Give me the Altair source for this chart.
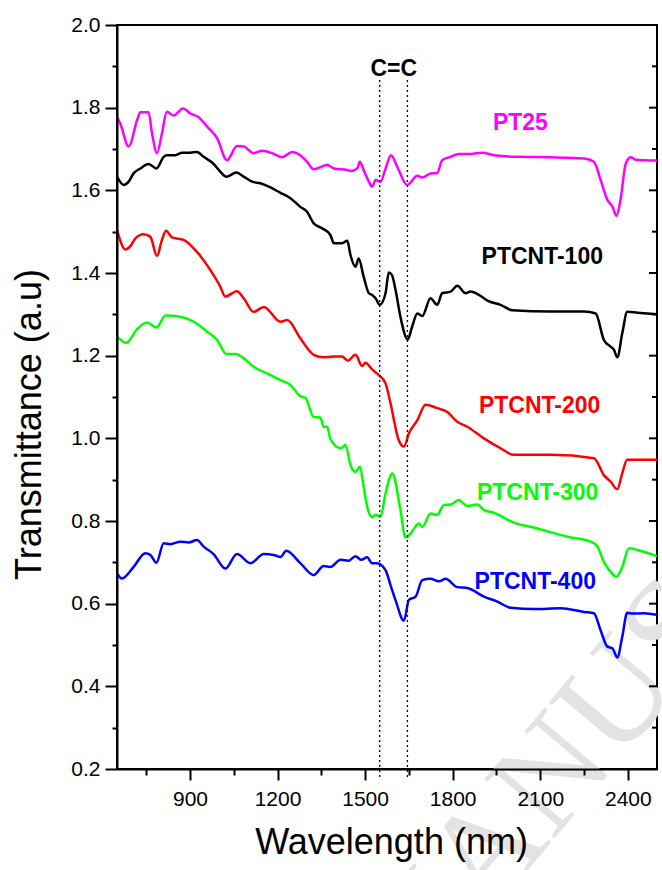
import altair as alt
import pandas as pd

# ---------------- data ----------------
pt25_x = [650, 661, 690, 719, 730, 758, 770, 787, 804, 821, 844, 876, 901, 930, 959, 993,
          1027, 1061, 1084, 1118, 1147, 1187, 1216, 1250, 1278, 1301, 1324, 1370, 1393, 1439,
          1450, 1473, 1482, 1495, 1513, 1524, 1536, 1553, 1570, 1589, 1610, 1644, 1679, 1696,
          1724, 1747, 1764, 1793, 1821, 1861, 1901, 1941, 2021, 2136, 2250, 2284, 2307, 2330,
          2347, 2361, 2375, 2393, 2410, 2427, 2500]
pt25_y = [1.778, 1.762, 1.706, 1.770, 1.789, 1.789, 1.738, 1.690, 1.738, 1.790, 1.781, 1.798,
          1.786, 1.777, 1.754, 1.726, 1.673, 1.707, 1.706, 1.690, 1.696, 1.688, 1.680, 1.693,
          1.685, 1.669, 1.651, 1.661, 1.653, 1.649, 1.647, 1.653, 1.669, 1.649, 1.621, 1.609,
          1.625, 1.621, 1.653, 1.685, 1.657, 1.613, 1.635, 1.631, 1.641, 1.642, 1.673, 1.681,
          1.688, 1.688, 1.691, 1.685, 1.681, 1.680, 1.677, 1.669, 1.625, 1.577, 1.561, 1.538,
          1.577, 1.665, 1.680, 1.674, 1.672]

p100_x = [650, 673, 690, 707, 730, 758, 785, 810, 821, 850, 873, 901, 924, 947, 981, 1004,
          1025, 1059, 1084, 1113, 1141, 1176, 1210, 1244, 1278, 1301, 1324, 1353, 1381, 1393,
          1421, 1439, 1450, 1467, 1478, 1495, 1513, 1524, 1536, 1550, 1570, 1581, 1592, 1604,
          1621, 1646, 1661, 1679, 1696, 1724, 1747, 1764, 1793, 1816, 1844, 1861, 1890, 1919,
          1964, 2004, 2136, 2250, 2290, 2318, 2341, 2352, 2364, 2381, 2398, 2433, 2500]
p100_y = [1.633, 1.613, 1.621, 1.641, 1.653, 1.664, 1.653, 1.681, 1.685, 1.685, 1.691, 1.691,
          1.693, 1.681, 1.664, 1.645, 1.633, 1.643, 1.633, 1.621, 1.617, 1.607, 1.594, 1.581,
          1.560, 1.548, 1.520, 1.508, 1.492, 1.472, 1.472, 1.478, 1.443, 1.415, 1.435, 1.391,
          1.351, 1.347, 1.339, 1.323, 1.351, 1.401, 1.395, 1.360, 1.294, 1.239, 1.270, 1.302,
          1.296, 1.339, 1.323, 1.351, 1.355, 1.369, 1.351, 1.355, 1.347, 1.333, 1.323, 1.310,
          1.307, 1.307, 1.302, 1.238, 1.222, 1.215, 1.196, 1.254, 1.306, 1.304, 1.300]

p200_x = [650, 679, 696, 713, 741, 764, 787, 804, 818, 839, 878, 924, 970, 1004, 1021, 1061,
          1084, 1118, 1153, 1210, 1233, 1278, 1324, 1358, 1393, 1421, 1441, 1467, 1490, 1501,
          1524, 1547, 1570, 1587, 1615, 1633, 1650, 1679, 1707, 1747, 1781, 1816, 1850, 1907,
          1964, 2010, 2136, 2284, 2318, 2341, 2364, 2381, 2398, 2500]
p200_y = [1.504, 1.457, 1.465, 1.484, 1.494, 1.488, 1.441, 1.480, 1.502, 1.486, 1.480, 1.451,
          1.407, 1.367, 1.343, 1.356, 1.339, 1.306, 1.318, 1.282, 1.286, 1.242, 1.202, 1.196,
          1.198, 1.198, 1.188, 1.202, 1.175, 1.183, 1.167, 1.153, 1.133, 1.085, 0.996, 0.980,
          1.012, 1.044, 1.081, 1.073, 1.064, 1.040, 1.028, 1.000, 0.976, 0.960, 0.960, 0.952,
          0.911, 0.895, 0.877, 0.916, 0.948, 0.948]

p300_x = [650, 682, 719, 753, 785, 816, 867, 913, 959, 993, 1025, 1056, 1084, 1118, 1164, 1210,
          1244, 1278, 1295, 1324, 1347, 1358, 1370, 1381, 1416, 1433, 1450, 1467, 1482, 1495,
          1507, 1524, 1536, 1553, 1570, 1593, 1621, 1638, 1656, 1684, 1696, 1724, 1747, 1770,
          1793, 1821, 1850, 1884, 1907, 1941, 2010, 2090, 2193, 2273, 2296, 2318, 2341, 2361,
          2381, 2404, 2433, 2500]
p300_y = [1.246, 1.231, 1.264, 1.280, 1.268, 1.297, 1.294, 1.282, 1.258, 1.238, 1.204, 1.204,
          1.194, 1.173, 1.157, 1.141, 1.129, 1.102, 1.098, 1.052, 1.050, 1.028, 1.028, 0.998,
          0.976, 0.984, 0.935, 0.919, 0.931, 0.883, 0.835, 0.809, 0.815, 0.811, 0.867, 0.915,
          0.827, 0.760, 0.770, 0.794, 0.786, 0.818, 0.815, 0.839, 0.840, 0.851, 0.836, 0.840,
          0.827, 0.820, 0.796, 0.782, 0.762, 0.750, 0.738, 0.701, 0.677, 0.665, 0.689, 0.734,
          0.730, 0.715]

p400_x = [650, 667, 707, 747, 764, 785, 810, 833, 867, 896, 924, 947, 981, 1021, 1061, 1107,
          1153, 1187, 1210, 1230, 1278, 1324, 1358, 1381, 1416, 1444, 1467, 1487, 1507, 1524,
          1541, 1570, 1587, 1604, 1633, 1650, 1673, 1696, 1724, 1753, 1776, 1816, 1850, 1907,
          1953, 1999, 2079, 2170, 2250, 2284, 2307, 2330, 2347, 2364, 2381, 2398, 2416, 2456,
          2500]
p400_y = [0.673, 0.661, 0.689, 0.722, 0.718, 0.699, 0.746, 0.744, 0.750, 0.748, 0.754, 0.738,
          0.720, 0.685, 0.720, 0.698, 0.720, 0.718, 0.713, 0.728, 0.698, 0.669, 0.691, 0.689,
          0.706, 0.704, 0.715, 0.706, 0.712, 0.698, 0.698, 0.681, 0.645, 0.609, 0.559, 0.609,
          0.617, 0.657, 0.660, 0.654, 0.660, 0.640, 0.638, 0.617, 0.605, 0.590, 0.587, 0.589,
          0.580, 0.577, 0.535, 0.496, 0.492, 0.470, 0.520, 0.578, 0.576, 0.577, 0.573]

series_names = ["PT25", "PTCNT-100", "PTCNT-200", "PTCNT-300", "PTCNT-400"]
series_colors = ["#ff00ff", "#000000", "#ff0000", "#00ff00", "#0000ff"]
series_xy = [(pt25_x, pt25_y), (p100_x, p100_y), (p200_x, p200_y),
             (p300_x, p300_y), (p400_x, p400_y)]

label_x = [2032, 2107, 2098, 2091, 2083]
label_y = [1.746, 1.422, 1.062, 0.851, 0.635]

cc_x = [1550, 1645]
cc_top = [1.867, 1.867]
cc_label = "C=C"
cc_label_x = 1598
cc_label_y = 1.877

x_ticks = [750, 900, 1050, 1200, 1350, 1500, 1650, 1800, 1950, 2100, 2250, 2400]
y_ticks = [0.2, 0.3, 0.4, 0.5, 0.6, 0.7, 0.8, 0.9, 1.0, 1.1, 1.2, 1.3, 1.4, 1.5, 1.6,
           1.7, 1.8, 1.9, 2.0]
y_major = [0.4, 0.6, 0.8, 1.0, 1.2, 1.4, 1.6, 1.8]
y_minor = [0.3, 0.5, 0.7, 0.9, 1.1, 1.3, 1.5, 1.7, 1.9]

watermark_text = "MANUSCRIPT"

# ---------------- tables ----------------
rows = []
for name, (xs_, ys_) in zip(series_names, series_xy):
    assert len(xs_) == len(ys_), name
    for i, (a, b) in enumerate(zip(xs_, ys_)):
        rows.append({"series": name, "wl": a, "T": b, "order": i})
df = pd.DataFrame(rows)

labels_df = pd.DataFrame({"series": series_names, "x": label_x, "y": label_y,
                          "color": series_colors})
cc_df = pd.DataFrame({"x": cc_x, "top": cc_top})
cc_text_df = pd.DataFrame({"x": [cc_label_x], "y": [cc_label_y], "t": [cc_label]})
rmaj_df = pd.DataFrame({"y": y_major})
rmin_df = pd.DataFrame({"y": y_minor})
wm_df = pd.DataFrame({"t": [watermark_text]})

FONT = "Liberation Sans"
xs = alt.Scale(domain=[650, 2500], nice=False, zero=False)
ys = alt.Scale(domain=[0.2, 2.0], nice=False, zero=False)

x_axis = alt.Axis(
    values=x_ticks, format="d",
    labelExpr="datum.value % 300 == 0 ? datum.label : ''",
    tickSize={"condition": {"test": "datum.value % 300 == 0", "value": 11}, "value": 6},
    grid=False, domainColor="black", domainWidth=2, tickColor="black", tickWidth=2,
    labelFont=FONT, labelFontSize=21, labelColor="black", labelPadding=8,
    title="Wavelength (nm)", titleFont=FONT, titleFontSize=36, titleFontWeight="normal",
    titleColor="black", titleX=274, titleY=84, titleBaseline="alphabetic",
    titleAlign="center", zindex=1,
)
y_axis = alt.Axis(
    values=y_ticks,
    labelExpr="round(datum.value*10) % 2 == 0 ? format(datum.value, '.1f') : ''",
    tickSize={"condition": {"test": "round(datum.value*10) % 2 == 0", "value": 12}, "value": 5},
    grid=False, domainColor="black", domainWidth=2, tickColor="black", tickWidth=2,
    labelFont=FONT, labelFontSize=21, labelColor="black", labelPadding=5,
    title="Transmittance (a.u)", titleFont=FONT, titleFontSize=36, titleFontWeight="normal",
    titleColor="black", titleX=-77, titleY=399, titleAngle=270,
    titleBaseline="alphabetic", titleAlign="center", zindex=1,
)

watermark = alt.Chart(wm_df).mark_text(
    angle=310, font="Liberation Serif", fontSize=140, color="#e3e3e3",
    align="left", baseline="alphabetic",
).encode(x=alt.value(290), y=alt.value(989), text="t:N")

lines = alt.Chart(df).mark_line(strokeWidth=2.5, interpolate="monotone").encode(
    x=alt.X("wl:Q", scale=xs, axis=x_axis),
    y=alt.Y("T:Q", scale=ys, axis=y_axis),
    color=alt.Color("series:N", scale=alt.Scale(domain=series_names, range=series_colors),
                    legend=None),
    order="order:Q",
)

cc_lines = alt.Chart(cc_df).mark_rule(color="black", strokeWidth=1.3,
                                      strokeDash=[2, 3]).encode(
    x=alt.X("x:Q", scale=xs), y=alt.Y("top:Q", scale=ys), y2=alt.value(755)
)

cc_text = alt.Chart(cc_text_df).mark_text(
    font=FONT, fontSize=23, fontWeight="bold", color="black",
    align="center", baseline="alphabetic",
).encode(x=alt.X("x:Q", scale=xs), y=alt.Y("y:Q", scale=ys), text="t:N")

series_text = alt.Chart(labels_df).mark_text(
    font=FONT, fontSize=23, fontWeight="bold", align="center", baseline="alphabetic",
).encode(x=alt.X("x:Q", scale=xs), y=alt.Y("y:Q", scale=ys), text="series:N",
         color=alt.Color("color:N", scale=None))

right_major = alt.Chart(rmaj_df).mark_rule(color="black", strokeWidth=2).encode(
    y=alt.Y("y:Q", scale=ys), x=alt.value(532), x2=alt.value(540))
right_minor = alt.Chart(rmin_df).mark_rule(color="black", strokeWidth=2).encode(
    y=alt.Y("y:Q", scale=ys), x=alt.value(535), x2=alt.value(540))

chart = alt.layer(
    watermark, lines, cc_lines, cc_text, series_text, right_major, right_minor
).properties(
    width=540, height=744,
    autosize=alt.AutoSizeParams(type="none"),
    padding={"left": 117, "top": 25, "right": 5, "bottom": 101},
    background="white",
).configure_view(stroke="black", strokeWidth=2)

chart.save("out.html", embed_options={"renderer": "svg", "actions": False})
